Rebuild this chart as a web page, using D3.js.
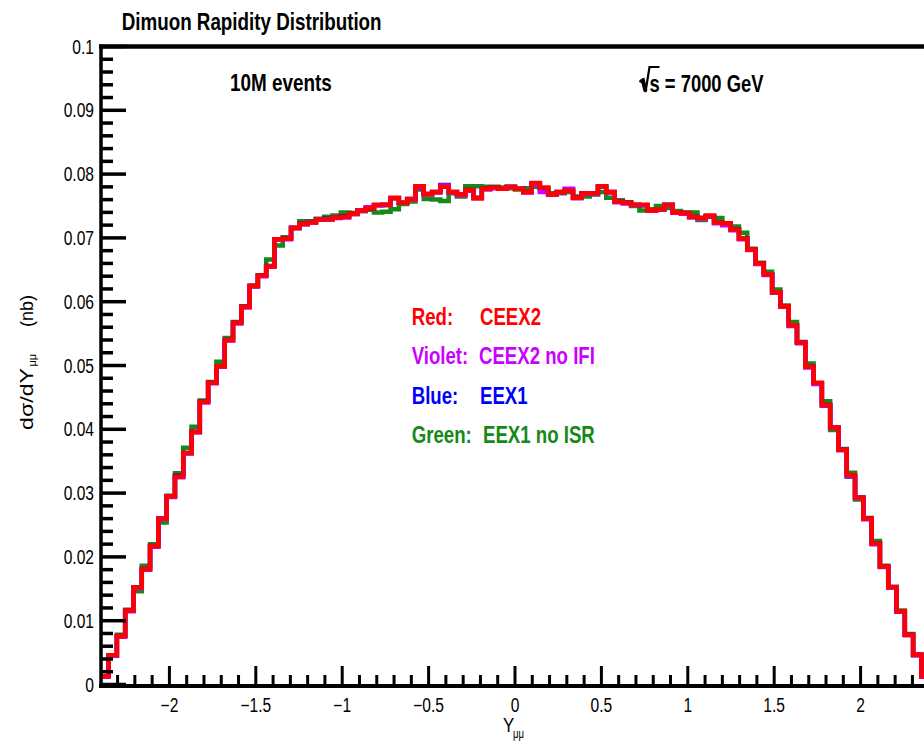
<!DOCTYPE html>
<html>
<head>
<meta charset="utf-8">
<script src="https://cdn.jsdelivr.net/npm/d3@7"></script>
<style>
html,body{margin:0;padding:0;background:#fff;}
svg{display:block;}
text{font-family:"Liberation Sans",Arial,Helvetica,sans-serif;}
</style>
</head>
<body>
<svg id="chart" width="924" height="746"></svg>
<script>
// ---------------- DATA ----------------
const xMin = -2.4, xMax = 2.4, nBins = 100;
const binEdges = d3.range(nBins + 1).map(i => +(xMin + i * (xMax - xMin) / nBins).toFixed(4));

const redCEEX2 = [
0.0013,0.0046,0.0076,0.0116,0.0152,0.0181,0.0217,0.0260,0.0295,0.0326,
0.0363,0.0396,0.0443,0.0473,0.0499,0.0540,0.0567,0.0592,0.0625,0.0641,
0.0655,0.0698,0.0699,0.0716,0.0722,0.0724,0.0729,0.0729,0.0732,0.0733,
0.0738,0.0743,0.0746,0.0752,0.0752,0.0763,0.0755,0.0761,0.0781,0.0769,
0.0772,0.0780,0.0772,0.0768,0.0775,0.0762,0.0777,0.0779,0.0777,0.0780,
0.0777,0.0772,0.0786,0.0779,0.0768,0.0772,0.0774,0.0763,0.0770,0.0770,
0.0781,0.0772,0.0757,0.0755,0.0752,0.0752,0.0743,0.0745,0.0752,0.0740,
0.0739,0.0733,0.0731,0.0735,0.0724,0.0723,0.0713,0.0699,0.0682,0.0660,
0.0643,0.0615,0.0593,0.0563,0.0536,0.0498,0.0473,0.0438,0.0403,0.0368,
0.0328,0.0293,0.0260,0.0221,0.0185,0.0153,0.0115,0.0078,0.0047,0.0013];

const violetCEEX2noIFI = [
0.0012,0.0045,0.0075,0.0115,0.0151,0.0180,0.0216,0.0259,0.0294,0.0325,
0.0362,0.0395,0.0442,0.0472,0.0498,0.0539,0.0566,0.0591,0.0624,0.0640,
0.0655,0.0697,0.0698,0.0715,0.0721,0.0724,0.0729,0.0729,0.0731,0.0732,
0.0737,0.0742,0.0748,0.0751,0.0751,0.0762,0.0755,0.0760,0.0779,0.0768,
0.0771,0.0782,0.0771,0.0767,0.0774,0.0762,0.0776,0.0778,0.0777,0.0779,
0.0777,0.0771,0.0784,0.0772,0.0768,0.0771,0.0777,0.0762,0.0769,0.0769,
0.0780,0.0771,0.0756,0.0754,0.0751,0.0751,0.0743,0.0744,0.0751,0.0740,
0.0738,0.0732,0.0730,0.0734,0.0723,0.0720,0.0712,0.0698,0.0681,0.0659,
0.0642,0.0614,0.0592,0.0562,0.0535,0.0497,0.0471,0.0437,0.0402,0.0367,
0.0327,0.0292,0.0259,0.0220,0.0184,0.0152,0.0114,0.0077,0.0046,0.0012];

const blueEEX1 = [
0.0013,0.0046,0.0076,0.0116,0.0152,0.0181,0.0217,0.0260,0.0295,0.0327,
0.0363,0.0396,0.0443,0.0473,0.0499,0.0540,0.0567,0.0592,0.0625,0.0641,
0.0656,0.0697,0.0699,0.0716,0.0722,0.0725,0.0729,0.0730,0.0732,0.0734,
0.0738,0.0743,0.0746,0.0751,0.0752,0.0762,0.0755,0.0761,0.0779,0.0769,
0.0772,0.0783,0.0772,0.0768,0.0775,0.0763,0.0777,0.0779,0.0777,0.0780,
0.0777,0.0772,0.0785,0.0778,0.0768,0.0772,0.0775,0.0763,0.0770,0.0770,
0.0780,0.0772,0.0757,0.0755,0.0752,0.0751,0.0743,0.0745,0.0752,0.0740,
0.0739,0.0733,0.0731,0.0734,0.0724,0.0722,0.0713,0.0699,0.0682,0.0660,
0.0643,0.0615,0.0593,0.0563,0.0536,0.0498,0.0472,0.0438,0.0403,0.0368,
0.0326,0.0293,0.0260,0.0221,0.0185,0.0153,0.0115,0.0078,0.0047,0.0013];

const greenEEX1noISR = [
0.0013,0.0046,0.0078,0.0117,0.0146,0.0186,0.0220,0.0254,0.0296,0.0331,
0.0371,0.0404,0.0445,0.0474,0.0506,0.0543,0.0568,0.0593,0.0624,0.0641,
0.0666,0.0688,0.0701,0.0715,0.0726,0.0726,0.0730,0.0733,0.0735,0.0740,
0.0739,0.0742,0.0744,0.0740,0.0741,0.0745,0.0753,0.0757,0.0776,0.0761,
0.0760,0.0758,0.0770,0.0765,0.0781,0.0781,0.0780,0.0780,0.0779,0.0778,
0.0776,0.0778,0.0780,0.0776,0.0770,0.0770,0.0772,0.0765,0.0765,0.0768,
0.0772,0.0763,0.0759,0.0756,0.0750,0.0743,0.0745,0.0750,0.0747,0.0742,
0.0740,0.0740,0.0728,0.0733,0.0731,0.0722,0.0718,0.0708,0.0683,0.0661,
0.0647,0.0619,0.0594,0.0568,0.0537,0.0503,0.0472,0.0444,0.0399,0.0369,
0.0332,0.0290,0.0261,0.0225,0.0186,0.0152,0.0116,0.0079,0.0046,0.0013];

const seriesNames = ["Green", "Blue", "Violet", "Red"];
const seriesColors = ["#168a16", "#0000ff", "#cc00ff", "#ff0000"];
const seriesValues = [greenEEX1noISR, blueEEX1, violetCEEX2noIFI, redCEEX2];

const legendLabels = ["Red:", "Violet:", "Blue:", "Green:"];
const legendTexts = ["CEEX2", "CEEX2 no IFI", "EEX1", "EEX1 no ISR"];
const legendColors = ["#ff0000", "#cc00ff", "#0000ff", "#168a16"];

const yTicks = [0,0.01,0.02,0.03,0.04,0.05,0.06,0.07,0.08,0.09,0.1];
const yTickLabels = ["0","0.01","0.02","0.03","0.04","0.05","0.06","0.07","0.08","0.09","0.1"];
const xTicks = [-2,-1.5,-1,-0.5,0,0.5,1,1.5,2];
const xTickLabels = ["\u22122","\u22121.5","\u22121","\u22120.5","0","0.5","1","1.5","2"];

// ---------------- LAYOUT ----------------
const svg = d3.select("#chart");
const x = d3.scaleLinear().domain([xMin, xMax]).range([100.3, 929.7]);
const y = d3.scaleLinear().domain([0, 0.1]).range([684.5, 46.5]);
const SX = 0.8; // horizontal text compression seen in the reference

function txt(parent, px, py, str, size, opts = {}) {
  const g = parent.append("g").attr("transform", `translate(${px},${py}) scale(${SX},1)`);
  const t = g.append("text").attr("x", 0).attr("y", 0)
    .attr("font-size", size)
    .attr("font-weight", opts.bold ? "bold" : "normal")
    .attr("fill", opts.color || "#000")
    .attr("text-anchor", opts.anchor || "start")
    .text(str);
  return t;
}

// ---------------- HISTOGRAMS ----------------
const line = d3.line().x(d => x(d[0])).y(d => y(d[1])).curve(d3.curveStepAfter);
const plot = svg.append("g");
seriesValues.forEach((vals, si) => {
  const pts = vals.map((v, i) => [binEdges[i], v]);
  pts.push([binEdges[nBins], vals[nBins - 1]]);
  plot.append("path")
    .attr("d", line(pts))
    .attr("fill", "none")
    .attr("stroke", seriesColors[si])
    .attr("stroke-width", 4.5)
    .attr("stroke-linejoin", "miter")
    .attr("stroke-linecap", "butt");
});

// ---------------- AXES ----------------
const ax = svg.append("g");
// top frame
ax.append("line").attr("x1", 99).attr("x2", 924).attr("y1", y(0.1)).attr("y2", y(0.1))
  .attr("stroke", "#000").attr("stroke-width", 4.5);
// left axis
ax.append("line").attr("x1", 101).attr("x2", 101).attr("y1", y(0.1) - 2).attr("y2", 688)
  .attr("stroke", "#000").attr("stroke-width", 3.5);
// bottom axis
ax.append("line").attr("x1", 99).attr("x2", 924).attr("y1", 686).attr("y2", 686)
  .attr("stroke", "#000").attr("stroke-width", 4);

// y ticks
const yMinor = d3.range(0, 51).map(i => +(i * 0.002).toFixed(4));
yMinor.forEach(v => {
  const isMajor = Math.abs(v * 100 - Math.round(v * 100)) < 1e-6;
  ax.append("line").attr("x1", 101).attr("x2", isMajor ? 126 : 113)
    .attr("y1", y(v)).attr("y2", y(v)).attr("stroke", "#000").attr("stroke-width", 3.5);
});
yTicks.forEach((v, i) => txt(ax, 94, y(v) + 7, yTickLabels[i], 19.5, {anchor: "end"}));

// x ticks
const xMinor = d3.range(-23, 24).map(i => +(i * 0.1).toFixed(2));
xMinor.forEach(v => {
  const isMajor = Math.abs(v * 2 - Math.round(v * 2)) < 1e-6;
  ax.append("line").attr("x1", x(v)).attr("x2", x(v))
    .attr("y1", 684).attr("y2", isMajor ? 666 : 675)
    .attr("stroke", "#000").attr("stroke-width", 3);
});
xTicks.forEach((v, i) => txt(ax, x(v), 712, xTickLabels[i], 19.5, {anchor: "middle"}));

// axis titles
txt(ax, 503, 731.5, "Y", 21);
txt(ax, 513, 737.5, "\u03bc\u03bc", 12);

const yt = ax.append("g").attr("transform", "translate(33,365.5) rotate(-90)");
const ytt = yt.append("text").attr("font-size", 19).attr("fill", "#000");
ytt.append("tspan").attr("x", -64.5).attr("y", 0).attr("textLength", 62).attr("lengthAdjust", "spacingAndGlyphs").text("d\u03c3/dY");
ytt.append("tspan").attr("x", -1).attr("y", 3).attr("font-size", 11).text("\u03bc\u03bc");
ytt.append("tspan").attr("x", 38.5).attr("y", 0).attr("textLength", 32).attr("lengthAdjust", "spacingAndGlyphs").text("(nb)");

// ---------------- TEXT ----------------
txt(svg, 121.7, 29.5, "Dimuon Rapidity Distribution", 23.5, {bold: true});
txt(svg, 230, 91, "10M events", 23.6, {bold: true});
// sqrt(s) radical
svg.append("path")
  .attr("d", "M639.5,82 L642,80 L645.5,92 L649.5,67 L659.5,67")
  .attr("fill", "none").attr("stroke", "#000").attr("stroke-width", 2.2)
  .attr("stroke-linejoin", "miter");
svg.append("path")
  .attr("d", "M640.5,82 L643,80.5 L645.5,91")
  .attr("fill", "none").attr("stroke", "#000").attr("stroke-width", 4);
txt(svg, 649.5, 91.7, "s = 7000 GeV", 23, {bold: true});

// legend
const legBase = [325, 364.3, 403.6, 443];
const legValX = [480, 479, 480, 483];
legendLabels.forEach((l, i) => {
  txt(svg, 411.7, legBase[i], l, 23.3, {bold: true, color: legendColors[i]});
  txt(svg, legValX[i], legBase[i], legendTexts[i], 23.3, {bold: true, color: legendColors[i]});
});
</script>
</body>
</html>
